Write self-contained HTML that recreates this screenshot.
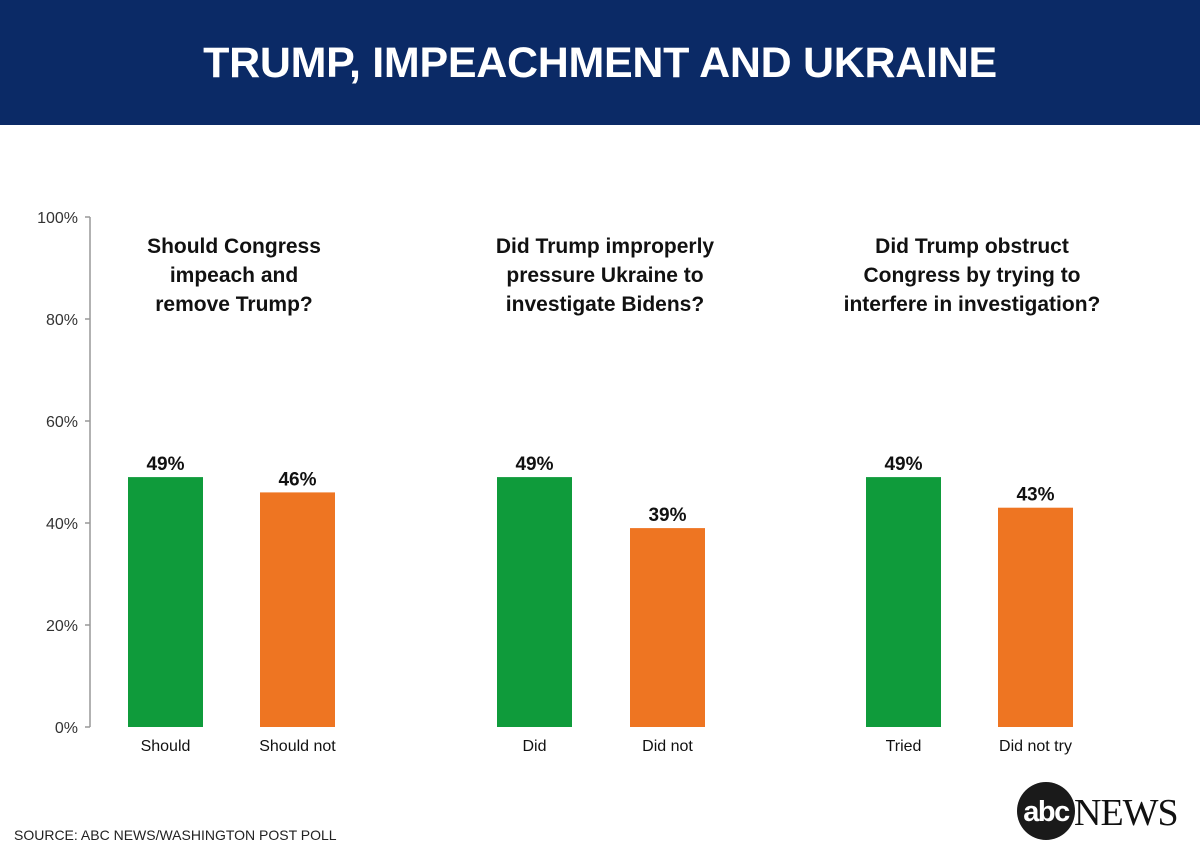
<!DOCTYPE html>
<html><head><meta charset="utf-8"><style>
html,body{margin:0;padding:0;background:#fff;}
svg{display:block;font-family:"Liberation Sans",sans-serif;}
</style></head><body>
<svg id="chart" width="1200" height="849" viewBox="0 0 1200 849">
<rect x="0" y="0" width="1200" height="125" fill="#0b2a66"/>
<text x="600" y="77" text-anchor="middle" fill="#fff" font-size="43" font-weight="bold" letter-spacing="-0.3">TRUMP, IMPEACHMENT AND UKRAINE</text>
<g id="axis"></g>
<g id="bars"></g>
<text x="14" y="840" font-size="14" fill="#222">SOURCE:  ABC NEWS/WASHINGTON POST POLL</text>
<g>
<circle cx="1046" cy="811" r="29" fill="#1a1a1a"/>
<text x="1046" y="821" text-anchor="middle" fill="#fff" font-size="29" font-weight="bold" letter-spacing="-1.5">abc</text>
<text x="1074" y="825" fill="#111" font-family="Liberation Serif,serif" font-size="38" letter-spacing="-1">NEWS</text>
</g>
</svg>
<script>
const categories = ["Should","Should not","Did","Did not","Tried","Did not try"];
const values = [49,46,49,39,49,43];
const barColors = ["#0f9b3b","#ee7522","#0f9b3b","#ee7522","#0f9b3b","#ee7522"];
const barCenters = [165.5,297.5,534.5,667.5,903.5,1035.5];
const yTicks = [0,20,40,60,80,100];
const groupTitles = [["Should Congress","impeach and","remove Trump?"],["Did Trump improperly","pressure Ukraine to","investigate Bidens?"],["Did Trump obstruct","Congress by trying to","interfere in investigation?"]];
const groupCenters = [234,605,972];
const NS="http://www.w3.org/2000/svg";
const y = v => 727 - v*5.1;
function mk(tag,attrs,parent,text){const e=document.createElementNS(NS,tag);for(const k in attrs)e.setAttribute(k,attrs[k]);if(text!==undefined)e.textContent=text;parent.appendChild(e);return e;}
const ax=document.getElementById('axis');
const axl=mk('line',{x1:90,x2:90,y1:y(100),y2:y(0),stroke:'#999','stroke-width':1.5},ax);


yTicks.forEach(t=>{
  const l=mk('line',{x1:85,x2:90,y1:y(t),y2:y(t),stroke:'#999','stroke-width':1.5},ax);
  
  
  const tx=mk('text',{x:78,y:y(t)+6,'text-anchor':'end','font-size':16,fill:'#333'},ax,t+'%');
  
  
});
const bg=document.getElementById('bars');
categories.forEach((c,i)=>{
  const r=mk('rect',{x:barCenters[i]-37.5,y:y(values[i]),width:75,height:y(0)-y(values[i]),fill:barColors[i]},bg);
  
  
  const v=mk('text',{x:barCenters[i],y:y(values[i])-7,'text-anchor':'middle','font-size':19,'font-weight':'bold',fill:'#111'},bg,values[i]+'%');
  
  
  const cl=mk('text',{x:barCenters[i],y:751,'text-anchor':'middle','font-size':16,fill:'#111'},bg,c);
  
  
});
groupTitles.forEach((g,i)=>{
  g.forEach((line,j)=>{
    const t=mk('text',{x:groupCenters[i],y:253+j*29,'text-anchor':'middle','font-size':21,'font-weight':'bold',fill:'#111'},bg,line);
    
    
  });
});
</script>
</body></html>
